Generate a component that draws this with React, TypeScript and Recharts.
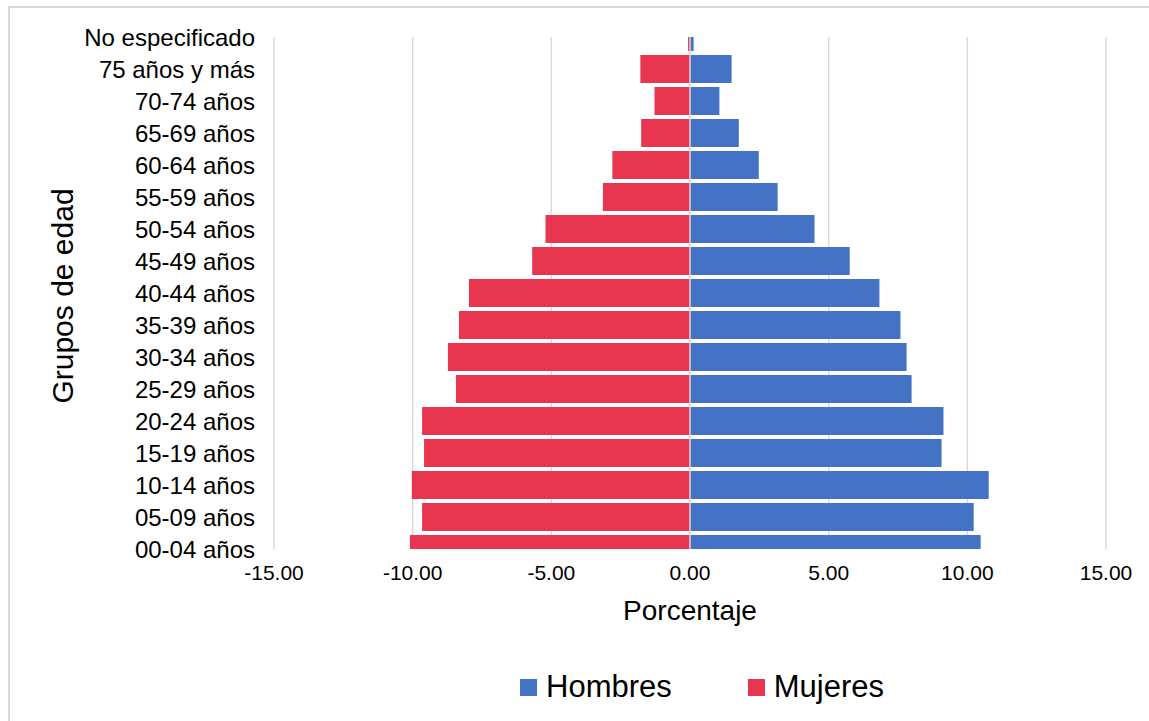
import React from "react";
import { BarChart, Bar, XAxis, YAxis, CartesianGrid, ReferenceLine, Legend } from "recharts";

// listed from the bottom row (00-04) up to the top row
const ageGroups = [
  "00-04 años",
  "05-09 años",
  "10-14 años",
  "15-19 años",
  "20-24 años",
  "25-29 años",
  "30-34 años",
  "35-39 años",
  "40-44 años",
  "45-49 años",
  "50-54 años",
  "55-59 años",
  "60-64 años",
  "65-69 años",
  "70-74 años",
  "75 años y más",
  "No especificado",
];
const hombres = [10.48, 10.23, 10.77, 9.07, 9.14, 7.99, 7.81, 7.59, 6.83, 5.76, 4.49, 3.16, 2.48, 1.76, 1.06, 1.5, 0.13];
const mujeres = [-10.1, -9.66, -10.03, -9.59, -9.66, -8.44, -8.73, -8.33, -7.97, -5.69, -5.21, -3.14, -2.8, -1.76, -1.28, -1.79, -0.07];
const xTicks = [-15, -10, -5, 0, 5, 10, 15];

const BLUE = "#4472C4";
const RED = "#E83550";
const GRID = "#d9d9d9";
const FONT = "'Liberation Sans', Arial, sans-serif";

const data = ageGroups.map((grupo, i) => ({
  idx: i,
  grupo,
  Hombres: hombres[i],
  Mujeres: mujeres[i],
}));
const yTicks = ageGroups.map((_, i) => i);

function PyramidLegend(props: any) {
  const items = props.payload ?? [];
  return (
    <div style={{ display: "flex", alignItems: "center" }}>
      {items.map((it: any, i: number) => (
        <div
          key={it.value}
          style={{ display: "flex", alignItems: "center", marginRight: i === 0 ? 76 : 0 }}
        >
          <span style={{ display: "inline-block", width: 17, height: 17, background: it.color, marginRight: 9 }} />
          <span style={{ fontSize: 31, color: "#000", lineHeight: "36px" }}>{it.value}</span>
        </div>
      ))}
    </div>
  );
}

function YTitle(props: any) {
  const vb = props.viewBox;
  const cy = vb.y + vb.height / 2 + 3;
  return (
    <text x={73} y={cy} transform={`rotate(-90 73 ${cy})`} textAnchor="middle" fontSize={30} fill="#000">
      Grupos de edad
    </text>
  );
}

function XTitle(props: any) {
  const vb = props.viewBox;
  return (
    <text x={vb.x + vb.width / 2} y={vb.y + 71} textAnchor="middle" fontSize={28} fill="#000">
      Porcentaje
    </text>
  );
}

export default function App() {
  return (
    <div
      style={{
        position: "fixed",
        left: 0,
        top: 0,
        width: 1149,
        height: 721,
        overflow: "hidden",
        background: "#fff",
        fontFamily: FONT,
      }}
    >
      <div
        style={{
          position: "absolute",
          left: 8,
          top: 6,
          width: 1170,
          height: 740,
          border: `2px solid ${GRID}`,
        }}
      />
      <div style={{ position: "absolute", left: 0, top: 0 }}>
        <BarChart
          width={1149}
          height={721}
          data={data}
          layout="vertical"
          stackOffset="sign"
          margin={{ top: 37, right: 43, bottom: 16, left: 0 }}
        >
          <CartesianGrid horizontal={false} stroke={GRID} strokeWidth={1.5} />
          <XAxis
            type="number"
            domain={[-15, 15]}
            ticks={xTicks}
            tickFormatter={(v: number) => v.toFixed(2)}
            axisLine={false}
            tickLine={false}
            tickMargin={10}
            height={120}
            tick={{ fontSize: 21, fill: "#000" }}
            label={<XTitle />}
          />
          <YAxis
            type="number"
            dataKey="idx"
            reversed
            domain={[0, ageGroups.length - 1]}
            ticks={yTicks}
            interval={0}
            allowDataOverflow
            tickFormatter={(i: number) => ageGroups[i]}
            axisLine={false}
            tickLine={false}
            tickMargin={13}
            width={274}
            tick={{ fontSize: 24, fill: "#000" }}
            label={<YTitle />}
          />
          <Bar dataKey="Hombres" stackId="p" fill={BLUE} barSize={28} isAnimationActive={false} />
          <Bar dataKey="Mujeres" stackId="p" fill={RED} barSize={28} isAnimationActive={false} />
          <ReferenceLine x={0} stroke={GRID} strokeWidth={1.5} />
          <Legend
            verticalAlign="bottom"
            content={<PyramidLegend />}
            wrapperStyle={{ left: 520, bottom: 16, width: 420 }}
          />
        </BarChart>
      </div>
    </div>
  );
}
